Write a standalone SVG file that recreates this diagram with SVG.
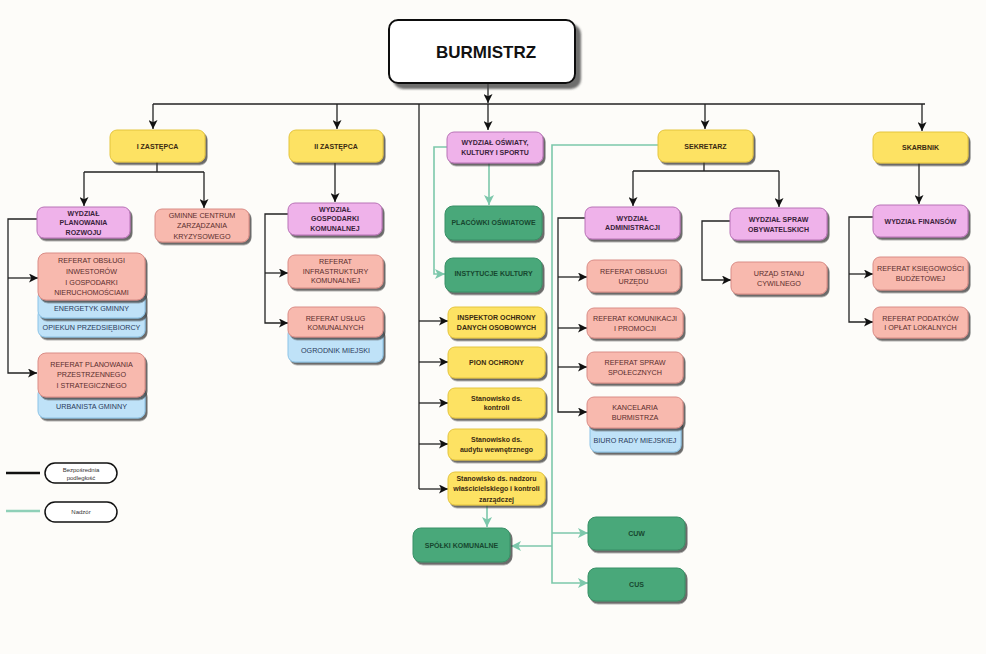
<svg xmlns="http://www.w3.org/2000/svg" width="986" height="654" viewBox="0 0 986 654">
<defs>
<filter id="sh" x="-10%" y="-10%" width="130%" height="140%"><feDropShadow dx="2" dy="2.5" stdDeviation="0.7" flood-color="#3a3a3a" flood-opacity="0.75"/></filter>
<filter id="shb" x="-10%" y="-10%" width="130%" height="140%"><feDropShadow dx="5" dy="5" stdDeviation="1" flood-color="#4a4a4a" flood-opacity="0.8"/></filter>
<marker id="ab" viewBox="0 0 10 10" refX="10" refY="5" markerWidth="9" markerHeight="9" markerUnits="userSpaceOnUse" orient="auto"><path d="M0,0 L10,5 L0,10 L2.5,5 z" fill="#111"/></marker>
<marker id="ag" viewBox="0 0 10 10" refX="10" refY="5" markerWidth="10" markerHeight="10" markerUnits="userSpaceOnUse" orient="auto"><path d="M0,0 L10,5 L0,10 L2.5,5 z" fill="#7cc7ab"/></marker>
</defs>
<style>
text{font-family:"Liberation Sans",Arial,sans-serif;text-anchor:middle;font-size:7.2px}
.b rect{filter:url(#sh)}
.y rect{fill:#fde263;stroke:#e4c43e;stroke-width:1}
.y text{fill:#3a2a12;font-weight:bold;font-size:7px}
.p rect{fill:#efb2ea;stroke:#b872b6;stroke-width:1}
.p text{fill:#3a1f3a;font-weight:bold;font-size:7px}
.s rect{fill:#f8b9ae;stroke:#d98c86;stroke-width:1}
.s text{fill:#5a2d2d}
.l rect{fill:#bfe2f8;stroke:#8cc3e6;stroke-width:1}
.l text{fill:#2a3a5a}
.g rect{fill:#48a87a;stroke:#3a8f66;stroke-width:1}
.g text{fill:#17472f;font-weight:bold;font-size:7px}
.k{fill:none;stroke:#222;stroke-width:1.3}
.gr{fill:none;stroke:#7cc7ab;stroke-width:1.6}
</style>
<rect width="986" height="654" fill="#fdfcf9"/>

<g id="connectors">
<path class="k" d="M488,83 V103" marker-end="url(#ab)"/>
<path class="k" d="M153,104 H925"/>
<path class="k" d="M153,104 V129" marker-end="url(#ab)"/>
<path class="k" d="M337,104 V129" marker-end="url(#ab)"/>
<path class="k" d="M488,104 V130" marker-end="url(#ab)"/>
<path class="k" d="M705,104 V129" marker-end="url(#ab)"/>
<path class="k" d="M922,104 V131" marker-end="url(#ab)"/>
<path class="k" d="M419,104 V489"/>
<path class="k" d="M157,162 V172 M84,172 H204"/>
<path class="k" d="M84,172 V206" marker-end="url(#ab)"/>
<path class="k" d="M204,172 V208" marker-end="url(#ab)"/>
<path class="k" d="M37,219 H8 V373 H37" marker-end="url(#ab)"/>
<path class="k" d="M8,278 H38" marker-end="url(#ab)"/>
<path class="k" d="M335,163 V202" marker-end="url(#ab)"/>
<path class="k" d="M288,214 H265 V323 H288" marker-end="url(#ab)"/>
<path class="k" d="M265,273 H288" marker-end="url(#ab)"/>
<path class="k" d="M419,321 H448" marker-end="url(#ab)"/>
<path class="k" d="M419,362 H448" marker-end="url(#ab)"/>
<path class="k" d="M419,403 H448" marker-end="url(#ab)"/>
<path class="k" d="M419,444 H448" marker-end="url(#ab)"/>
<path class="k" d="M419,489 H448" marker-end="url(#ab)"/>
<path class="k" d="M704,162 V171 M633,171 H779"/>
<path class="k" d="M633,171 V206" marker-end="url(#ab)"/>
<path class="k" d="M779,171 V207" marker-end="url(#ab)"/>
<path class="k" d="M585,218 H558 V412 H587" marker-end="url(#ab)"/>
<path class="k" d="M558,277 H587" marker-end="url(#ab)"/>
<path class="k" d="M558,328 H587" marker-end="url(#ab)"/>
<path class="k" d="M558,367 H587" marker-end="url(#ab)"/>
<path class="k" d="M730,221 H702 V280 H731" marker-end="url(#ab)"/>
<path class="k" d="M919,163 V204" marker-end="url(#ab)"/>
<path class="k" d="M873,217 H849 V322 H873" marker-end="url(#ab)"/>
<path class="k" d="M849,274 H873" marker-end="url(#ab)"/>
<path class="gr" d="M489,163 V205" marker-end="url(#ag)"/>
<path class="gr" d="M447,147 H434 V274 H445" marker-end="url(#ag)"/>
<path class="gr" d="M658,145 H552 V583 H588" marker-end="url(#ag)"/>
<path class="gr" d="M552,533 H588" marker-end="url(#ag)"/>
<path class="gr" d="M552,546 H511" marker-end="url(#ag)"/>
<path class="gr" d="M487,505 V527" marker-end="url(#ag)"/>
</g>

<g id="burmistrz"><rect x="389" y="20" width="186" height="63" rx="9" fill="#fff" stroke="#111" stroke-width="2" filter="url(#shb)"/><text x="486" y="58" style="font-size:17px;font-weight:bold;fill:#111">BURMISTRZ</text></g>

<g id="i-zastepca" class="b y"><rect x="110" y="130" width="95" height="32" rx="7"/><text x="157.5" y="148.5">I ZASTĘPCA</text></g>
<g id="ii-zastepca" class="b y"><rect x="289" y="130" width="94" height="32" rx="7"/><text x="336" y="148.5">II ZASTĘPCA</text></g>
<g id="sekretarz" class="b y"><rect x="658" y="130" width="95" height="32" rx="7"/><text x="705.5" y="148.5">SEKRETARZ</text></g>
<g id="skarbnik" class="b y"><rect x="873" y="132" width="95" height="31" rx="7"/><text x="920.5" y="150">SKARBNIK</text></g>

<g id="wydzial-oswiaty" class="b p"><rect x="447" y="132" width="96" height="31" rx="7"/><text x="495" y="144.5">WYDZIAŁ OŚWIATY,</text><text x="495" y="154.5">KULTURY I SPORTU</text></g>
<g id="wydzial-planowania" class="b p"><rect x="37" y="207" width="93" height="31" rx="7"/><text x="83.5" y="215.5">WYDZIAŁ</text><text x="83.5" y="225">PLANOWANIA</text><text x="83.5" y="234.5">ROZWOJU</text></g>
<g id="wydzial-gospodarki" class="b p"><rect x="288" y="203" width="94" height="32" rx="7"/><text x="335" y="211.5">WYDZIAŁ</text><text x="335" y="221">GOSPODARKI</text><text x="335" y="230.5">KOMUNALNEJ</text></g>
<g id="wydzial-administracji" class="b p"><rect x="585" y="207" width="95" height="32" rx="7"/><text x="632.5" y="220.5">WYDZIAŁ</text><text x="632.5" y="229.5">ADMINISTRACJI</text></g>
<g id="wydzial-spraw" class="b p"><rect x="730" y="208" width="97" height="32" rx="7"/><text x="778.5" y="221.5">WYDZIAŁ SPRAW</text><text x="778.5" y="231.5">OBYWATELSKICH</text></g>
<g id="wydzial-finansow" class="b p"><rect x="873" y="205" width="95" height="32" rx="7"/><text x="920.5" y="223.5">WYDZIAŁ FINANSÓW</text></g>

<g id="gczk" class="b s"><rect x="155" y="209" width="94" height="33" rx="7"/><text x="202" y="217.5">GMINNE CENTRUM</text><text x="202" y="228">ZARZĄDZANIA</text><text x="202" y="238.5">KRYZYSOWEGO</text></g>

<g id="opiekun" class="b l"><rect x="38" y="308" width="107" height="29" rx="7"/><text x="91.5" y="329.5">OPIEKUN PRZEDSIĘBIORCY</text></g>
<g id="energetyk" class="b l"><rect x="38" y="290" width="107" height="28" rx="7"/><text x="91.5" y="310.5">ENERGETYK GMINNY</text></g>
<g id="referat-inwestorow" class="b s"><rect x="38" y="253" width="107" height="47" rx="8"/><text x="91.5" y="262.5">REFERAT OBSŁUGI</text><text x="91.5" y="273.5">INWESTORÓW</text><text x="91.5" y="284.5">I GOSPODARKI</text><text x="91.5" y="295">NIERUCHOMOŚCIAMI</text></g>

<g id="urbanista" class="b l"><rect x="38" y="387" width="107" height="31" rx="7"/><text x="91.5" y="409">URBANISTA GMINNY</text></g>
<g id="referat-planowania" class="b s"><rect x="38" y="353" width="107" height="44" rx="8"/><text x="91.5" y="366.5">REFERAT PLANOWANIA</text><text x="91.5" y="377">PRZESTRZENNEGO</text><text x="91.5" y="387.5">I STRATEGICZNEGO</text></g>

<g id="referat-infrastruktury" class="b s"><rect x="288" y="255" width="95" height="33" rx="7"/><text x="335.5" y="263.5">REFERAT</text><text x="335.5" y="273.5">INFRASTRUKTURY</text><text x="335.5" y="283">KOMUNALNEJ</text></g>
<g id="ogrodnik" class="b l"><rect x="288" y="327" width="95" height="35" rx="7"/><text x="335.5" y="352.5">OGRODNIK MIEJSKI</text></g>
<g id="referat-uslug" class="b s"><rect x="288" y="307" width="95" height="30" rx="7"/><text x="335.5" y="320.5">REFERAT USŁUG</text><text x="335.5" y="330">KOMUNALNYCH</text></g>

<g id="placowki" class="b g"><rect x="445" y="206" width="97" height="34" rx="8"/><text x="493.5" y="225">PLACÓWKI OŚWIATOWE</text></g>
<g id="instytucje" class="b g"><rect x="445" y="258" width="97" height="34" rx="8"/><text x="493.5" y="276">INSTYTUCJE KULTURY</text></g>

<g id="inspektor" class="b y"><rect x="448" y="307" width="97" height="31" rx="7"/><text x="496.5" y="319.5">INSPEKTOR OCHRONY</text><text x="496.5" y="329.5">DANYCH OSOBOWYCH</text></g>
<g id="pion-ochrony" class="b y"><rect x="448" y="347" width="97" height="31" rx="7"/><text x="496.5" y="364.5">PION OCHRONY</text></g>
<g id="stanowisko-kontroli" class="b y"><rect x="448" y="388" width="97" height="30" rx="7"/><text x="496.5" y="400.5">Stanowisko ds.</text><text x="496.5" y="410">kontroli</text></g>
<g id="stanowisko-audytu" class="b y"><rect x="448" y="429" width="97" height="31" rx="7"/><text x="496.5" y="441.5">Stanowisko ds.</text><text x="496.5" y="451.5">audytu wewnętrznego</text></g>
<g id="stanowisko-nadzoru" class="b y"><rect x="448" y="472" width="97" height="33" rx="7"/><text x="496.5" y="480.5">Stanowisko ds. nadzoru</text><text x="496.5" y="491">właścicielskiego i kontroli</text><text x="496.5" y="501.5">zarządczej</text></g>

<g id="spolki" class="b g"><rect x="413" y="528" width="97" height="34" rx="8"/><text x="461.5" y="548">SPÓŁKI KOMUNALNE</text></g>
<g id="cuw" class="b g"><rect x="588" y="517" width="97" height="33" rx="8"/><text x="636.5" y="536">CUW</text></g>
<g id="cus" class="b g"><rect x="588" y="568" width="97" height="33" rx="8"/><text x="636.5" y="587">CUS</text></g>

<g id="referat-obslugi-urzedu" class="b s"><rect x="587" y="260" width="93" height="32" rx="7"/><text x="633.5" y="273.5">REFERAT OBSŁUGI</text><text x="633.5" y="283.5">URZĘDU</text></g>
<g id="referat-komunikacji" class="b s"><rect x="587" y="308" width="96" height="30" rx="7"/><text x="635" y="320.5">REFERAT KOMUNIKACJI</text><text x="635" y="330.5">I PROMOCJI</text></g>
<g id="referat-spraw-spolecznych" class="b s"><rect x="587" y="352" width="96" height="31" rx="7"/><text x="635" y="364.5">REFERAT SPRAW</text><text x="635" y="374.5">SPOŁECZNYCH</text></g>
<g id="biuro-rady" class="b l"><rect x="590" y="418" width="91" height="34" rx="7"/><text x="635" y="443">BIURO RADY MIEJSKIEJ</text></g>
<g id="kancelaria" class="b s"><rect x="587" y="397" width="96" height="31" rx="7"/><text x="635" y="409.5">KANCELARIA</text><text x="635" y="419.5">BURMISTRZA</text></g>

<g id="usc" class="b s"><rect x="731" y="262" width="96" height="32" rx="7"/><text x="779" y="275.5">URZĄD STANU</text><text x="779" y="285.5">CYWILNEGO</text></g>
<g id="referat-ksiegowosci" class="b s"><rect x="873" y="257" width="95" height="33" rx="7"/><text x="920.5" y="270.5">REFERAT KSIĘGOWOŚCI</text><text x="920.5" y="280.5">BUDŻETOWEJ</text></g>
<g id="referat-podatkow" class="b s"><rect x="873" y="307" width="95" height="31" rx="7"/><text x="920.5" y="320.5">REFERAT PODATKÓW</text><text x="920.5" y="330">I OPŁAT LOKALNYCH</text></g>

<g id="legend">
<path d="M6,473 H40" stroke="#111" stroke-width="2.5"/>
<rect x="45" y="463" width="72" height="20" rx="10" fill="#fff" stroke="#111" stroke-width="1.5"/>
<text x="81" y="471.5" style="font-size:6px;fill:#333">Bezpośrednia</text>
<text x="81" y="479.5" style="font-size:6px;fill:#333">podległość</text>
<path d="M6,511 H40" stroke="#8fd0b8" stroke-width="2.5"/>
<rect x="45" y="502" width="72" height="20" rx="10" fill="#fff" stroke="#111" stroke-width="1.5"/>
<text x="81" y="514" style="font-size:6px;fill:#333">Nadzór</text>
</g>
</svg>
